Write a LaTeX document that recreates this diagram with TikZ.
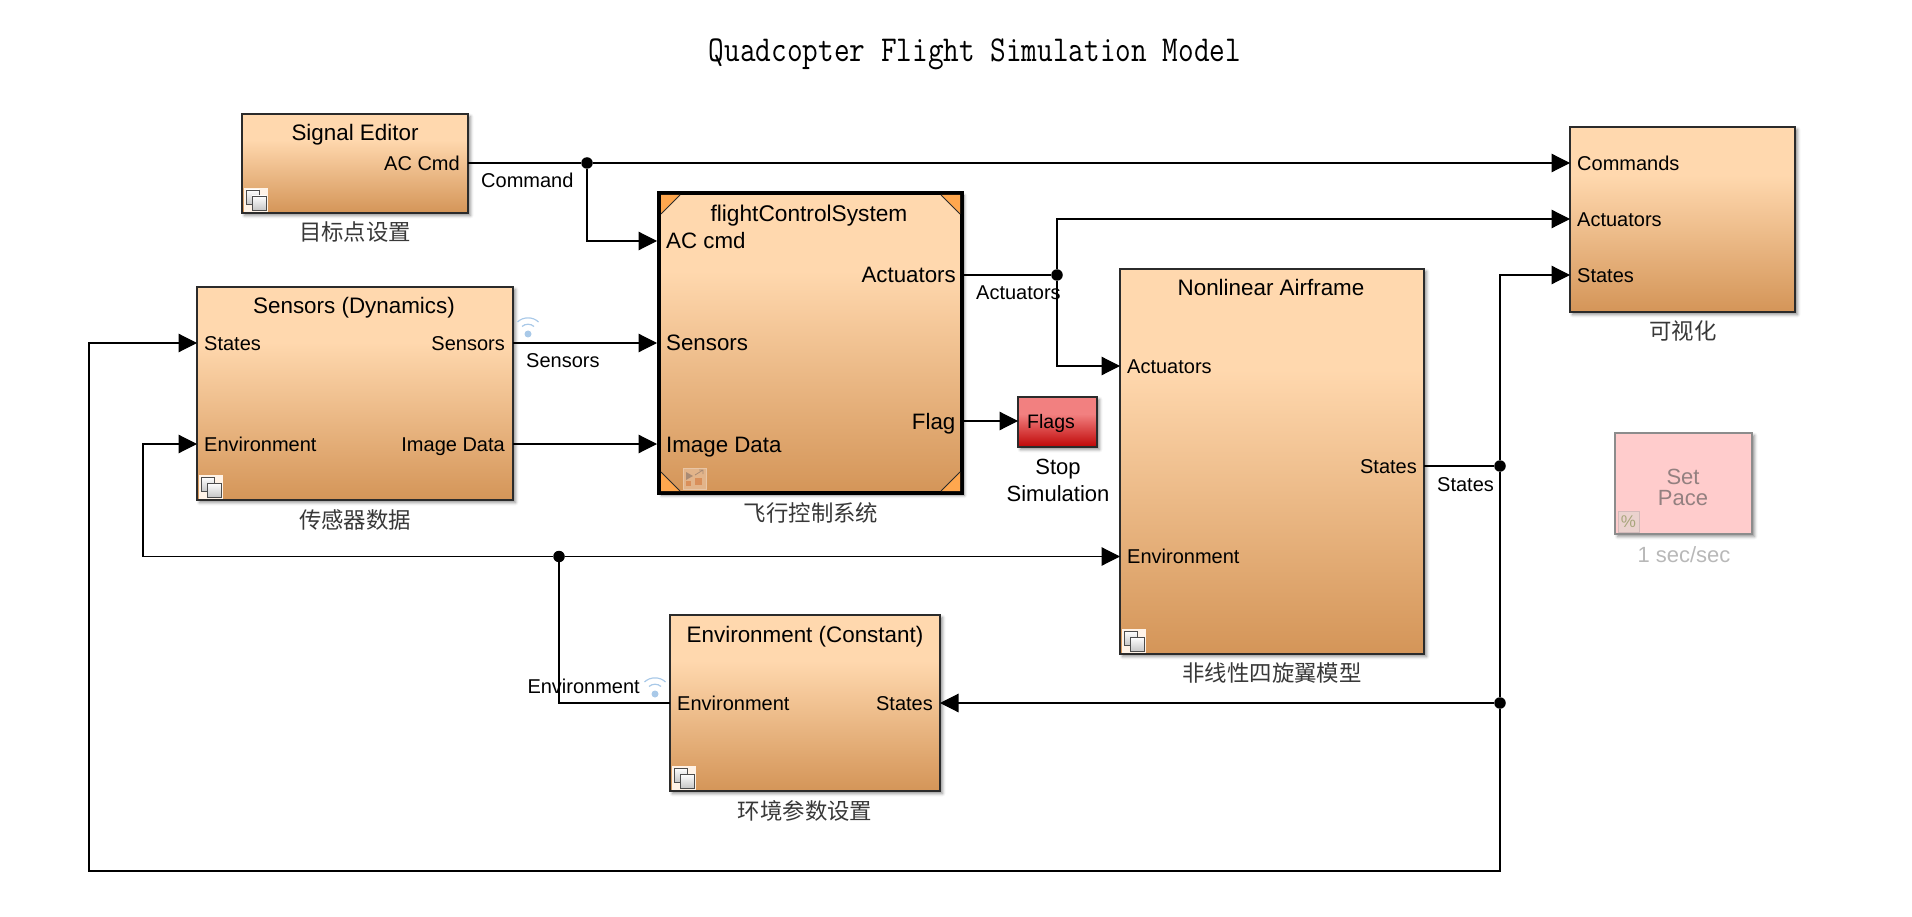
\documentclass[tikz,border=0pt]{standalone}
\usepackage{fontspec}
\usepackage{graphicx}
\setmainfont{Liberation Sans}
\newfontfamily\cjk{Noto Sans CJK SC}
\usetikzlibrary{arrows.meta,shadows.blur}
\definecolor{btop}{HTML}{FFD8AE}
\definecolor{bbot}{HTML}{D49558}
\definecolor{rtop}{HTML}{F28080}
\definecolor{rbot}{HTML}{BF0606}
\definecolor{wifi}{HTML}{A9C9E8}
\definecolor{edge}{HTML}{2B2B2B}
\definecolor{pctfill}{HTML}{EBD2CE}
\definecolor{pctedge}{HTML}{D3BABA}
\definecolor{pcttext}{HTML}{A8A67C}
\definecolor{mrfill}{HTML}{E2B48A}
\definecolor{mredge}{HTML}{E9C6A6}
\definecolor{mrmark}{HTML}{D98F5A}
\definecolor{mrline}{HTML}{A98B74}
\pgfdeclareverticalshading{blockshade}{100bp}{color(0bp)=(bbot); color(25bp)=(bbot); color(62bp)=(btop); color(100bp)=(btop)}
\pgfdeclareverticalshading{redshade}{100bp}{color(0bp)=(rbot); color(25bp)=(rbot); color(58bp)=(rtop); color(100bp)=(rtop)}
\pgfdeclareverticalshading{iconshade}{100bp}{color(0bp)=(black!22); color(25bp)=(black!22); color(75bp)=(white); color(100bp)=(white)}
\newcommand{\fsz}[1]{\fontsize{#1}{#1}\selectfont}
\tikzset{
  sombra/.style={blur shadow={shadow xshift=2.5pt,shadow yshift=-2.5pt,shadow blur radius=3pt,shadow opacity=45}},
  block/.style={draw=edge,line width=1.6pt,shade,shading=blockshade,anchor=north west,inner sep=0,outer sep=0pt,sombra},
  heavy/.style={block,line width=4.4pt,draw=black,outer sep=2.2pt},
  redblock/.style={block,shading=redshade},
  head/.style={font=\fsz{22.4},text=black,inner sep=0,text height=16pt,text depth=0pt},
  port/.style={font=\fsz{20},text=black,inner sep=0,text height=14.4pt,text depth=0pt},
  bigport/.style={port,font=\fsz{22.3},text height=16pt},
  sig/.style={port},
  cn/.style={font=\cjk\fsz{22.4},text=black!78,inner sep=0},
  wire/.style={line width=1.15pt,draw=black},
  arrowed/.style={wire,-{Triangle[length=18.5pt,width=18.5pt]}},
  joint/.style={circle,fill=black,inner sep=0,minimum size=11.5pt},
}
\newcommand{\subsysicon}[1]{%
  \begin{scope}[shift={(#1.south west)}]
    \fill[white!70!btop] (2,-25) rectangle (26,-1);
    \draw[shade,shading=iconshade,draw=black!70,line width=.9pt] (4,-23) rectangle (17,-9);
    \draw[shade,shading=iconshade,draw=black!70,line width=.9pt] (10,-17) rectangle (24,-3);
  \end{scope}}
\newcommand{\wifiicon}[2]{%
  \begin{scope}[shift={(#1,#2)}]
    \fill[wifi] (0,0) circle[radius=3.5pt];
    \draw[wifi,line width=1.2pt] (-6,-7.5) .. controls (-3,-10.5) and (3,-10.5) .. (6,-7.5);
    \draw[wifi,line width=1.2pt] (-10.5,-12) .. controls (-5,-17.5) and (5,-17.5) .. (10.5,-12);
  \end{scope}}
\newcommand{\cornertri}[6]{%
  \fill[orange!55!btop] (#1,#2) -- (#3,#4) -- (#5,#6) -- cycle;
  \draw[edge,line width=.9pt] (#3,#4) -- (#5,#6);}
\begin{document}
\begin{tikzpicture}[x=1pt,y=-1pt]
\useasboundingbox (0,0) rectangle (1912,917);
% title
\node[inner sep=0,font=\ttfamily\fsz{30.4}] (title) at (975,54.5) {\scalebox{1}[1.2]{Quadcopter Flight Simulation Model}};

% blocks
\node[block,minimum width=226pt,minimum height=99pt] (sigb) at (242,114) {};
\node[block,minimum width=316pt,minimum height=213pt] (sens) at (197,287) {};
\node[heavy,minimum width=302.6pt,minimum height=299.6pt] (fcs) at (657,191) {};
\node[block,minimum width=304pt,minimum height=385pt] (air) at (1120,269) {};
\node[block,minimum width=270pt,minimum height=176pt] (envb) at (670,615) {};
\node[block,minimum width=225pt,minimum height=185pt] (vis) at (1570,127) {};
\node[redblock,minimum width=79pt,minimum height=50pt] (flags) at (1018,397) {};
\node[draw=black!45,line width=1.3pt,fill=red!20!white,anchor=north west,inner sep=0,outer sep=0pt,minimum width=137pt,minimum height=101pt,sombra] (pace) at (1615,433) {};

% fcs corners
\cornertri{661}{195}{680}{195}{661}{214}
\cornertri{960}{195}{941}{195}{960}{214}
\cornertri{661}{491}{680}{491}{661}{472}
\cornertri{960}{491}{941}{491}{960}{472}

% headers
\node[head] (hsig) at (355,133) {Signal Editor};
\node[head] (hsens) at (354,306) {Sensors (Dynamics)};
\node[head,font=\fsz{22.7}] (hfcs) at (809,214) {flightControlSystem};
\node[head] (hair) at (1271,288) {Nonlinear Airframe};
\node[head] (henv) at (805,634) {Environment (Constant)};

% ports
\node[port,anchor=east] (sigAC) at (460,163) {AC Cmd};
\node[port,anchor=west] (sensStates) at (204,343) {States};
\node[port,anchor=west] (sensEnv) at (204,444) {Environment};
\node[port,anchor=east] (sensSens) at (505,343) {Sensors};
\node[port,anchor=east] (sensImg) at (505,444) {Image Data};
\node[bigport,anchor=west] (fcsAC) at (666,241) {AC cmd};
\node[bigport,anchor=west] (fcsSens) at (666,343) {Sensors};
\node[bigport,anchor=west] (fcsImg) at (666,444) {Image Data};
\node[bigport,anchor=east] (fcsAct) at (956,275) {Actuators};
\node[bigport,anchor=east] (fcsFlag) at (955.5,421) {Flag};
\node[port,anchor=west] (airAct) at (1127,366) {Actuators};
\node[port,anchor=west] (airEnv) at (1127,556.5) {Environment};
\node[port,anchor=east] (airStates) at (1417,466) {States};
\node[port,anchor=west] (envEnv) at (677,703) {Environment};
\node[port,anchor=east] (envStates) at (933,703) {States};
\node[port,anchor=west] (visCmd) at (1577,163) {Commands};
\node[port,anchor=west] (visAct) at (1577,219) {Actuators};
\node[port,anchor=west] (visStates) at (1577,275) {States};
\node[port,anchor=west,font=\fsz{19.5},text height=14pt] (flagsL) at (1027,421) {Flags};

% other block text
\node[inner sep=0,align=center,font=\fsz{22},text=red!15!black!50] (paceT) at (1683,487) {Set\\[-1pt]Pace};
\node[inner sep=0,font=\fsz{22},text=black!28] (paceL) at (1684,555) {1 sec/sec};
\node[inner sep=0,font=\fsz{22},align=center] (stopL) at (1058,480) {Stop\\[5pt]Simulation};

% Chinese labels
\node[cn] (c1) at (355,232) {目标点设置};
\node[cn] (c2) at (355,520) {传感器数据};
\node[cn] (c3) at (811,513) {飞行控制系统};
\node[cn] (c4) at (805,811) {环境参数设置};
\node[cn] (c5) at (1272,673) {非线性四旋翼模型};
\node[cn] (c6) at (1683,331) {可视化};

% junctions
\node[joint] (jcmd) at (587,163) {};
\node[joint] (jact) at (1057,275) {};
\node[joint] (jst) at (1500,466) {};
\node[joint] (jst2) at (1500,703) {};
\node[joint] (jenv) at (559,556.5) {};
% bends
\coordinate (bA) at (89,871);
\coordinate (bB) at (143,556.5);

% wires
\draw[wire] (sigb.east |- sigAC) -- (jcmd);
\draw[arrowed] (jcmd) -- (vis.west |- visCmd);
\draw[arrowed] (jcmd) |- (fcs.west |- fcsAC);
\draw[arrowed] (sens.east |- sensSens) -- (fcs.west |- fcsSens);
\draw[arrowed] (sens.east |- sensImg) -- (fcs.west |- fcsImg);
\draw[wire] (fcs.east |- fcsAct) -- (jact);
\draw[arrowed] (jact) |- (vis.west |- visAct);
\draw[arrowed] (jact) |- (air.west |- airAct);
\draw[arrowed] (fcs.east |- fcsFlag) -- (flags.west |- flagsL);
\draw[wire] (air.east |- airStates) -- (jst);
\draw[arrowed] (jst) |- (vis.west |- visStates);
\draw[wire] (jst) -- (jst2);
\draw[arrowed] (jst2) -- (envb.east |- envStates);
\draw[arrowed] (jst2) |- (bA) |- (sens.west |- sensStates);
\draw[wire] (envb.west |- envEnv) -| (jenv);
\draw[arrowed] (jenv) -- (air.west |- airEnv);
\draw[arrowed] (jenv) -- (bB) |- (sens.west |- sensEnv);

% signal labels
\node[sig,anchor=west] (lcmd) at (481,180) {Command};
\node[sig,anchor=west] (lact) at (976,292) {Actuators};
\node[sig,anchor=west] (lsens) at (526,360) {Sensors};
\node[sig,anchor=west] (lst) at (1437,484) {States};
\node[sig,anchor=east] (lenv) at (640,686) {Environment};

% icons
\subsysicon{sigb}
\subsysicon{sens}
\subsysicon{air}
\subsysicon{envb}
\wifiicon{528}{334}
\wifiicon{655}{694}
% model-reference icon
\draw[fill=mrfill,draw=mredge,line width=1pt] (683,468) rectangle (706,489);
\fill[mrmark] (695,478) rectangle (702,485);
\fill[mrline] (686,472) -- (693,476) -- (686,480) -- cycle;
\fill[mrmark] (686,481) rectangle (691,486);
\draw[mrline,line width=.8pt] (695,475) -- (703,470) (699,470) -- (703,470) -- (703,474);
% percent icon
\draw[fill=pctfill,draw=pctedge,line width=.9pt] (1618,511) rectangle (1639,532);
\node[inner sep=0,font=\fsz{17},text=pcttext] (pct) at (1628.5,521.5) {\%};
\end{tikzpicture}
\end{document}
